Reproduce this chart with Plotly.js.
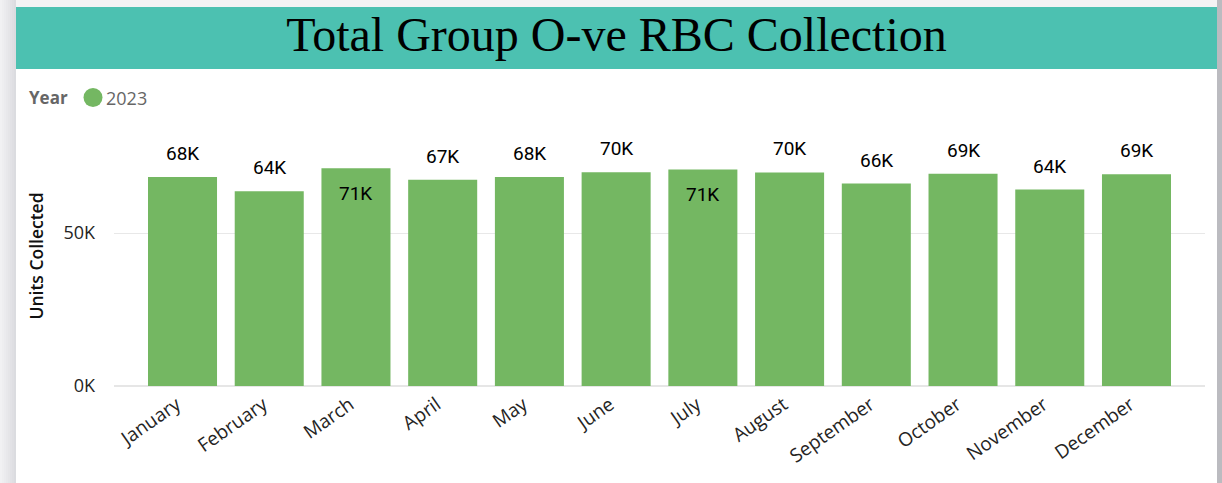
<!DOCTYPE html>
<html>
<head>
<meta charset="utf-8">
<script src="https://cdn.plot.ly/plotly-3.0.1.min.js"></script>
<style>
  html, body { margin: 0; padding: 0; background: #ffffff; }
  #chart { width: 1222px; height: 483px; }
</style>
</head>
<body>
<div id="chart"></div>
<script>
// ---- data ----
const months = ["January", "February", "March", "April", "May", "June",
                "July", "August", "September", "October", "November", "December"];
const units2023 = [68300, 63700, 71200, 67400, 68300, 69900,
                   70800, 69800, 66200, 69400, 64200, 69200];
const yTickVals = [0, 50000];
const yTickText = ["0K", "50K"];
const seriesName = "2023";
const legendTitle = "Year";
const chartTitle = "Total Group O-ve RBC Collection";

// ---- layout helpers (pixel -> paper) ----
const W = 1222, H = 483;
const M = { l: 114, r: W - 1205, t: 126, b: H - 386 };
const PW = W - M.l - M.r, PH = H - M.t - M.b;
const px = v => (v - M.l) / PW;
const py = v => (H - M.b - v) / PH;

const green = "#74B762";
const teal = "#4CC1B1";

function fmtK(v) { return Math.round(v / 1000) + "K"; }

// labels: inside the bar end for the tallest bars, otherwise above
const insideThreshold = 70500;
const labelAnns = months.map((m, i) => {
  const v = units2023[i];
  const inside = v >= insideThreshold;
  return {
    x: m, y: v, xref: "x", yref: "y",
    text: fmtK(v), showarrow: false,
    yanchor: inside ? "top" : "bottom",
    yshift: inside ? -12 : 10,
    font: { family: "Roboto, Arial, sans-serif", size: 19, color: "#000000" }
  };
});

// decorative frame shapes
const shapes = [];
shapes.push({ type: "rect", xref: "paper", yref: "paper", x0: px(0), x1: px(W), y0: py(7), y1: py(0),
  fillcolor: "#F3F3F4", line: { width: 0 }, layer: "below" });
const leftCols = ["#F1F1F3", "#EEEEF0", "#EBEBEE", "#E8E8EB", "#E5E5E8", "#E2E2E6", "#DFDFE3", "#DBDCE0"];
leftCols.forEach((c, k) => {
  shapes.push({ type: "rect", xref: "paper", yref: "paper",
    x0: px(k * 2), x1: px(k * 2 + 2), y0: py(H), y1: py(0),
    fillcolor: c, line: { width: 0 }, layer: "below" });
});
shapes.push({ type: "rect", xref: "paper", yref: "paper", x0: px(1217), x1: px(W), y0: py(H), y1: py(0),
  fillcolor: "#BBBBC0", line: { width: 0 }, layer: "below" });
shapes.push({ type: "rect", xref: "paper", yref: "paper", x0: px(16), x1: px(1217), y0: py(69), y1: py(7),
  fillcolor: teal, line: { width: 0 }, layer: "below" });
shapes.push({ type: "circle", xref: "paper", yref: "paper", x0: px(83.5), x1: px(102.5), y0: py(107), y1: py(88),
  fillcolor: green, line: { width: 0 } });

const anns = labelAnns.concat([
  { xref: "paper", yref: "paper", x: px(27), y: py(98), xanchor: "left", yanchor: "middle",
    text: "<b>" + legendTitle + "</b>", showarrow: false,
    font: { family: "Open Sans, Arial, sans-serif", size: 17, color: "#666666" } },
  { xref: "paper", yref: "paper", x: px(104), y: py(98), xanchor: "left", yanchor: "middle",
    text: seriesName, showarrow: false,
    font: { family: "Open Sans, Arial, sans-serif", size: 18, color: "#666666" } }
]);

const trace = {
  type: "bar",
  x: months,
  y: units2023,
  name: seriesName,
  marker: { color: green },
  hoverinfo: "x+y"
};

const layout = {
  width: W, height: H,
  margin: M,
  paper_bgcolor: "#FFFFFF",
  plot_bgcolor: "rgba(0,0,0,0)",
  showlegend: false,
  bargap: 0.204,
  title: {
    text: chartTitle,
    font: { family: "Liberation Serif, Times New Roman, serif", size: 48, color: "#000000" },
    xref: "container", yref: "container",
    x: 616.5 / W, xanchor: "center",
    y: 1 - 34 / H, yanchor: "middle"
  },
  xaxis: {
    type: "category",
    range: [-0.79, 11.79],
    tickangle: -35,
    tickfont: { family: "Open Sans, Arial, sans-serif", size: 19, color: "#252423" },
    ticklabelshift: -6,
    ticklabelstandoff: 3,
    showgrid: false, showline: false, ticks: "",
    fixedrange: true
  },
  yaxis: {
    range: [0, 85000],
    tickvals: yTickVals,
    ticktext: yTickText,
    tickfont: { family: "Open Sans, Arial, sans-serif", size: 18, color: "#252423" },
    ticklabelstandoff: 18,
    showgrid: true, gridcolor: "#E8E8E8", gridwidth: 1,
    zeroline: true, zerolinecolor: "#E6E6E6", zerolinewidth: 2,
    showline: false, ticks: "",
    title: {
      text: "Units Collected",
      font: { family: "Open Sans, Arial, sans-serif", size: 17.5, color: "#111111", weight: 600 },
      standoff: 15
    },
    fixedrange: true
  },
  shapes: shapes,
  annotations: anns
};

Plotly.newPlot("chart", [trace], layout, { displayModeBar: false, staticPlot: true });
</script>
</body>
</html>
